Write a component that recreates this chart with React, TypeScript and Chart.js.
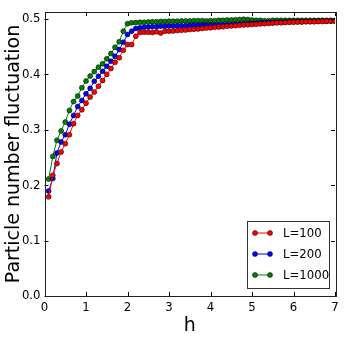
import React, { useEffect, useRef } from "react";
import { Chart, registerables } from "chart.js";

Chart.register(...registerables);

const hValues = [
  0.1, 0.2, 0.3, 0.4, 0.5, 0.6, 0.7, 0.8, 0.9, 1.0,
  1.1, 1.2, 1.3, 1.4, 1.5, 1.6, 1.7, 1.8, 1.9, 2.0,
  2.1, 2.2, 2.3, 2.4, 2.5, 2.6, 2.7, 2.8, 2.9, 3.0,
  3.1, 3.2, 3.3, 3.4, 3.5, 3.6, 3.7, 3.8, 3.9, 4.0,
  4.1, 4.2, 4.3, 4.4, 4.5, 4.6, 4.7, 4.8, 4.9, 5.0,
  5.1, 5.2, 5.3, 5.4, 5.5, 5.6, 5.7, 5.8, 5.9, 6.0,
  6.1, 6.2, 6.3, 6.4, 6.5, 6.6, 6.7, 6.8, 6.9, 7.0,
];

const L100 = [
  0.179, 0.218, 0.239, 0.26, 0.275, 0.291, 0.311, 0.326, 0.336, 0.348,
  0.359, 0.368, 0.3785, 0.389, 0.4, 0.4105, 0.422, 0.43, 0.4435, 0.4538,
  0.4538, 0.469, 0.4755, 0.476, 0.476, 0.4755, 0.477, 0.4745, 0.478, 0.478,
  0.4785, 0.479, 0.4795, 0.48, 0.481, 0.4815, 0.482, 0.483, 0.4835, 0.484,
  0.485, 0.4855, 0.486, 0.487, 0.4875, 0.488, 0.4885, 0.489, 0.4895, 0.49,
  0.4905, 0.491, 0.4915, 0.492, 0.4925, 0.493, 0.4932, 0.4935, 0.494, 0.494,
  0.4945, 0.4945, 0.495, 0.495, 0.4952, 0.4955, 0.4955, 0.496, 0.496, 0.496,
];

const L200 = [
  0.1895, 0.212, 0.258, 0.278, 0.291, 0.31, 0.326, 0.342, 0.353, 0.365,
  0.375, 0.3875, 0.3966, 0.4056, 0.4146, 0.4236, 0.4327, 0.4447, 0.458, 0.472,
  0.478, 0.483, 0.484, 0.485, 0.4855, 0.486, 0.4865, 0.487, 0.487, 0.4875,
  0.4875, 0.488, 0.488, 0.488, 0.4885, 0.4885, 0.4885, 0.489, 0.489, 0.489,
  0.489, 0.4895, 0.4895, 0.49, 0.49, 0.4905, 0.491, 0.4915, 0.492, 0.492,
  0.4925, 0.493, 0.493, 0.4935, 0.4935, 0.494, 0.494, 0.4945, 0.4945, 0.495,
  0.495, 0.495, 0.4955, 0.4955, 0.4955, 0.496, 0.496, 0.496, 0.4965, 0.4965,
];

const L1000 = [
  0.211, 0.252, 0.281, 0.298, 0.314, 0.335, 0.351, 0.361, 0.376, 0.388,
  0.397, 0.405, 0.413, 0.419, 0.428, 0.4375, 0.449, 0.459, 0.478, 0.4915,
  0.493, 0.4935, 0.494, 0.494, 0.4945, 0.495, 0.495, 0.4955, 0.4955, 0.496,
  0.496, 0.496, 0.4965, 0.4965, 0.4965, 0.497, 0.497, 0.497, 0.4965, 0.497,
  0.497, 0.4975, 0.4975, 0.498, 0.498, 0.4985, 0.499, 0.4995, 0.499, 0.498,
  0.4975, 0.4975, 0.497, 0.497, 0.4975, 0.4975, 0.4975, 0.4975, 0.4975, 0.4975,
  0.4975, 0.4975, 0.4975, 0.4975, 0.4975, 0.4975, 0.4975, 0.4975, 0.4975, 0.4975,
];

const seriesLabels = ["L=100", "L=200", "L=1000"];
const seriesColors = ["#ff0000", "#0000ff", "#007f00"];
const xTicks = [0, 1, 2, 3, 4, 5, 6, 7];
const yTicks = [0.0, 0.1, 0.2, 0.3, 0.4, 0.5];

const FONT = "'DejaVu Sans', sans-serif";
const NARROW = "'DejaVu Sans Condensed', 'Liberation Sans', sans-serif";

const framePlugin = {
  id: "frameTicks",
  afterDatasetsDraw(chart: any) {
    const { ctx, chartArea } = chart;
    const { left, right, top, bottom } = chartArea;
    const xs = chart.scales.x;
    const ys = chart.scales.y;
    ctx.save();
    ctx.strokeStyle = "#000";
    ctx.lineWidth = 1;
    const tl = 4;
    ctx.beginPath();
    for (const v of xTicks) {
      const px = Math.round(xs.getPixelForValue(v)) + 0.5;
      ctx.moveTo(px, bottom);
      ctx.lineTo(px, bottom - tl);
      ctx.moveTo(px, top);
      ctx.lineTo(px, top + tl);
    }
    for (const v of yTicks) {
      const py = Math.round(ys.getPixelForValue(v)) + 0.5;
      ctx.moveTo(left, py);
      ctx.lineTo(left + tl, py);
      ctx.moveTo(right, py);
      ctx.lineTo(right - tl, py);
    }
    ctx.stroke();
    ctx.strokeStyle = "#222";
    ctx.strokeRect(Math.round(left) + 0.5, Math.round(top) + 0.5, Math.round(right - left), Math.round(bottom - top));
    ctx.restore();
  },
  afterDraw(chart: any) {
    const { ctx } = chart;
    ctx.save();
    const bx = 247.5, by = 221.5, bw = 82, bh = 67;
    ctx.fillStyle = "#fff";
    ctx.fillRect(bx, by, bw, bh);
    ctx.strokeStyle = "#333";
    ctx.lineWidth = 1;
    ctx.strokeRect(bx, by, bw, bh);
    const rows = [233, 254, 275];
    chart.data.datasets.forEach((ds: any, i: number) => {
      const y = rows[i];
      ctx.strokeStyle = ds.borderColor;
      ctx.lineWidth = 1;
      ctx.beginPath();
      ctx.moveTo(255, y);
      ctx.lineTo(270, y);
      ctx.stroke();
      for (const x of [255, 270]) {
        ctx.beginPath();
        ctx.arc(x, y, 2.5, 0, Math.PI * 2);
        ctx.fillStyle = ds.backgroundColor;
        ctx.fill();
        ctx.strokeStyle = "#000";
        ctx.lineWidth = 0.5;
        ctx.stroke();
      }
      ctx.fillStyle = "#000";
      ctx.font = `13px ${NARROW}`;
      ctx.textBaseline = "middle";
      ctx.textAlign = "left";
      ctx.fillText(ds.label, 283, y + 1);
    });
    ctx.restore();
  },
};

export default function App() {
  const ref = useRef<HTMLCanvasElement>(null);
  useEffect(() => {
    if (!ref.current) return;
    const datasets = [L100, L200, L1000].map((arr, i) => ({
      label: seriesLabels[i],
      data: arr.map((v, j) => ({ x: hValues[j], y: v })),
      borderColor: seriesColors[i],
      backgroundColor: seriesColors[i],
      borderWidth: 1,
      pointRadius: 2.5,
      pointBorderColor: "#000",
      pointBorderWidth: 0.5,
      pointBackgroundColor: seriesColors[i],
      tension: 0,
    }));
    const chart = new Chart(ref.current, {
      type: "line",
      data: { datasets },
      plugins: [framePlugin],
      options: {
        animation: false,
        responsive: false,
        layout: { padding: { top: 12, right: 11, left: 0, bottom: 0 } },
        plugins: { legend: { display: false }, tooltip: { enabled: false } },
        scales: {
          x: {
            type: "linear",
            min: 0,
            max: 7,
            grid: { display: false, drawTicks: false },
            border: { display: false },
            afterBuildTicks: (s: any) => {
              s.ticks = xTicks.map((v) => ({ value: v }));
            },
            afterFit: (s: any) => {
              s.height = 50;
            },
            ticks: {
              padding: 4,
              color: "#000",
              font: { family: NARROW, size: 13 },
              maxRotation: 0,
              callback: (v: any) => String(v),
            },
            title: {
              display: true,
              text: "h",
              color: "#000",
              font: { family: FONT, size: 19 },
              padding: { top: 0, bottom: 9 },
            },
          },
          y: {
            type: "linear",
            min: 0,
            max: 0.5126,
            grid: { display: false, drawTicks: false },
            border: { display: false },
            afterBuildTicks: (s: any) => {
              s.ticks = yTicks.map((v) => ({ value: v }));
            },
            afterFit: (s: any) => {
              s.width = 44.5;
            },
            ticks: {
              padding: 4,
              color: "#000",
              font: { family: NARROW, size: 13 },
              callback: (v: any) => Number(v).toFixed(1),
            },
            title: {
              display: true,
              text: "Particle number fluctuation",
              color: "#000",
              font: { family: FONT, size: 19 },
              padding: { top: 3, bottom: 0 },
            },
          },
        },
      },
    });
    return () => chart.destroy();
  }, []);
  return (
    <div style={{ position: "absolute", left: 0, top: 0, width: 346, height: 346, background: "#fff" }}>
      <canvas ref={ref} width={346} height={346} style={{ display: "block" }} />
    </div>
  );
}
